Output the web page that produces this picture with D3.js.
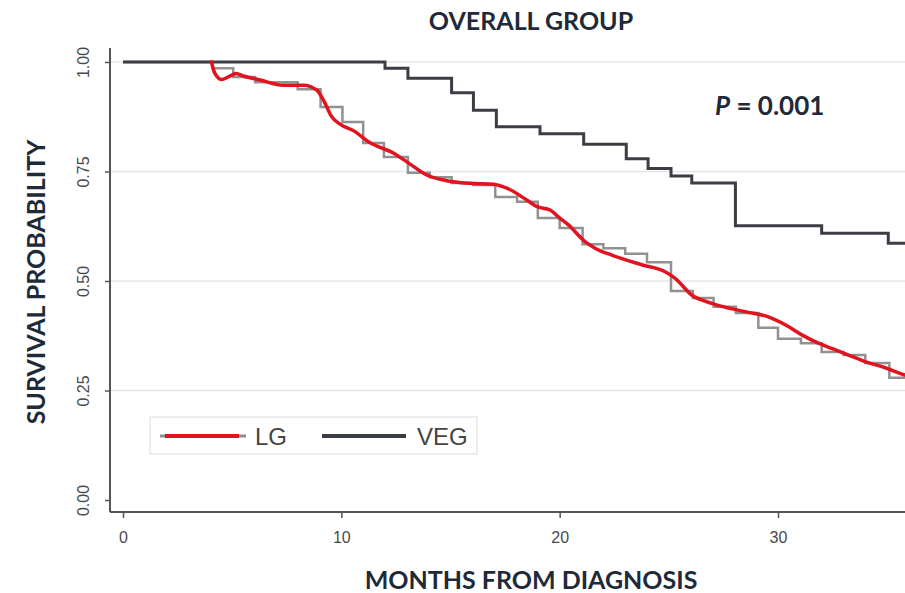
<!DOCTYPE html>
<html>
<head>
<meta charset="utf-8">
<script src="https://cdn.jsdelivr.net/npm/d3@7"></script>
<style>
  html, body { margin: 0; padding: 0; background: #fff; }
  svg { display: block; }
</style>
</head>
<body>
<svg id="chart"></svg>
<script>
// Kaplan-Meier steps, VEG group
const vegMonths = [0, 12, 13.05, 15.05, 16.05, 17.1, 19.1, 21.1, 23.05, 24.05, 25.1, 26.05, 28.05, 32, 35.05, 37];
const vegSurv = [1, 0.986, 0.963, 0.93, 0.89, 0.852, 0.836, 0.812, 0.779, 0.757, 0.74, 0.724, 0.626, 0.609, 0.586, 0.586];

// Kaplan-Meier steps, LG group
const lgMonths = [0, 4.1, 5.05, 6.05, 8.0, 9.05, 10.05, 11.0, 11.95, 13.05, 14.05, 15.05, 16.05, 17.05, 18.05, 19.0, 20.0,
  21.05, 22.0, 23.0, 24.0, 25.1, 26.1, 27.05, 28.07, 29.1, 30.0, 31.05, 32.0, 33.0, 34.0, 35.1, 37];
const lgSurv = [1, 0.986, 0.966, 0.954, 0.938, 0.897, 0.863, 0.815, 0.783, 0.747, 0.737, 0.724, 0.719, 0.692, 0.681, 0.644, 0.621,
  0.584, 0.575, 0.562, 0.543, 0.477, 0.461, 0.441, 0.427, 0.393, 0.368, 0.358, 0.338, 0.331, 0.313, 0.279, 0.279];

// smoothed LG curve (red)
const lgFitMonths = [4.05, 4.21, 4.52, 4.82, 5.18, 5.51, 6.28, 7.34, 8.26, 8.87, 9.18, 9.56, 9.94, 10.63, 11.24, 12.38, 13.0,
  13.91, 14.83, 15.9, 16.96, 17.58, 18.49, 18.95, 19.56, 20.02, 20.4, 21.16, 21.62, 22.39, 23.76, 24.83, 25.29, 26.05,
  26.97, 28.49, 29.56, 30.33, 31.09, 31.85, 32.46, 33.23, 33.99, 34.91, 35.82, 36.5];
const lgFitSurv = [1.0, 0.974, 0.96, 0.966, 0.974, 0.968, 0.959, 0.947, 0.947, 0.936, 0.913, 0.875, 0.858, 0.841, 0.818, 0.792, 0.772,
  0.742, 0.729, 0.723, 0.721, 0.712, 0.685, 0.67, 0.662, 0.643, 0.628, 0.59, 0.575, 0.559, 0.537, 0.521, 0.506, 0.468,
  0.449, 0.43, 0.418, 0.4, 0.377, 0.358, 0.346, 0.331, 0.316, 0.302, 0.285, 0.275];

const xTicks = [0, 10, 20, 30];
const yTicks = [0, 0.25, 0.5, 0.75, 1];
const gridTicks = [0.25, 0.5, 0.75, 1];

const width = 905;
const height = 593;

const svg = d3.select('#chart').attr('width', width).attr('height', height);

const x = d3.scaleLinear().domain([0, 30]).range([123, 778]);
const y = d3.scaleLinear().domain([0, 1]).range([500, 62]);

const axisLeftX = 110;
const axisBottomY = 512;
const navy = '#1e2a38';
const tickFont = '"Liberation Sans", Arial, sans-serif';

//
// GRID LINES
//
svg.append('g')
  .selectAll('line')
  .data(gridTicks)
  .join('line')
  .attr('x1', axisLeftX)
  .attr('x2', width)
  .attr('y1', (d) => y(d))
  .attr('y2', (d) => y(d))
  .attr('stroke', '#e6e6e6')
  .attr('stroke-width', 1.5);

//
// Y AXIS
//
const yAxis = svg.append('g')
  .attr('transform', `translate(${axisLeftX},0)`)
  .call(d3.axisLeft(y).tickValues(yTicks).tickSize(5).tickFormat(d3.format('.2f')));
yAxis.select('.domain').attr('d', `M0,48V${axisBottomY}`).attr('stroke', '#555').attr('stroke-width', 2);
yAxis.selectAll('.tick line').attr('stroke', '#555').attr('stroke-width', 1.5);
yAxis.selectAll('.tick text')
  .attr('transform', 'rotate(-90)')
  .attr('x', 0)
  .attr('y', -21)
  .attr('dy', 0)
  .attr('text-anchor', 'middle')
  .attr('fill', '#4a4a4a')
  .style('font-family', tickFont)
  .style('font-size', '16px');

//
// X AXIS
//
const xAxis = svg.append('g')
  .attr('transform', `translate(0,${axisBottomY})`)
  .call(d3.axisBottom(x).tickValues(xTicks).tickSize(6));
xAxis.select('.domain').attr('d', `M${axisLeftX},0H${width}`).attr('stroke', '#555').attr('stroke-width', 2);
xAxis.selectAll('.tick line').attr('stroke', '#555').attr('stroke-width', 1.5);
xAxis.selectAll('.tick text')
  .attr('y', 20)
  .attr('dy', '0.71em')
  .attr('fill', '#4a4a4a')
  .style('font-family', tickFont)
  .style('font-size', '16px');

//
// CURVES
//
const step = d3.line().curve(d3.curveStepAfter)
  .x((d) => x(d[0]))
  .y((d) => y(d[1]));

const smooth = d3.line().curve(d3.curveMonotoneX)
  .x((d) => x(d[0]))
  .y((d) => y(d[1]));

svg.append('path')
  .datum(lgMonths.map((m, i) => [m, lgSurv[i]]))
  .attr('fill', 'none')
  .attr('stroke', '#919191')
  .attr('stroke-width', 2.5)
  .attr('d', step);

svg.append('path')
  .datum(vegMonths.map((m, i) => [m, vegSurv[i]]))
  .attr('fill', 'none')
  .attr('stroke', '#3b3e44')
  .attr('stroke-width', 3)
  .attr('d', step);

svg.append('path')
  .datum(lgFitMonths.map((m, i) => [m, lgFitSurv[i]]))
  .attr('fill', 'none')
  .attr('stroke', '#e3121f')
  .attr('stroke-width', 3.5)
  .attr('stroke-linecap', 'round')
  .attr('d', smooth);

//
// LEGEND
//
const legend = svg.append('g');
legend.append('rect')
  .attr('x', 150).attr('y', 417).attr('width', 327).attr('height', 37)
  .attr('fill', '#fff').attr('stroke', '#e2e2e2').attr('stroke-width', 1.2);
legend.append('line')
  .attr('x1', 160).attr('x2', 246).attr('y1', 436).attr('y2', 436)
  .attr('stroke', '#8d8d8d').attr('stroke-width', 3);
legend.append('line')
  .attr('x1', 165).attr('x2', 239).attr('y1', 436).attr('y2', 436)
  .attr('stroke', '#e3121f').attr('stroke-width', 4);
legend.append('text')
  .attr('x', 255).attr('y', 445)
  .attr('fill', '#444')
  .style('font-family', tickFont)
  .style('font-size', '24px')
  .text('LG');
legend.append('line')
  .attr('x1', 322).attr('x2', 406).attr('y1', 436).attr('y2', 436)
  .attr('stroke', '#3b3e44').attr('stroke-width', 4);
legend.append('text')
  .attr('x', 417).attr('y', 445)
  .attr('fill', '#444')
  .style('font-family', tickFont)
  .style('font-size', '24px')
  .text('VEG');

//
// TITLES
//
const titleFont = 'Lato, "Open Sans", sans-serif';

svg.append('text')
  .attr('x', 531).attr('y', 30)
  .attr('text-anchor', 'middle')
  .attr('fill', navy)
  .style('font-family', titleFont)
  .style('font-weight', 'bold')
  .style('font-size', '25px')
  .text('OVERALL GROUP');

svg.append('text')
  .attr('x', 531).attr('y', 589)
  .attr('text-anchor', 'middle')
  .attr('fill', navy)
  .style('font-family', titleFont)
  .style('font-weight', 'bold')
  .style('font-size', '25px')
  .text('MONTHS FROM DIAGNOSIS');

svg.append('text')
  .attr('transform', 'translate(45,282) rotate(-90)')
  .attr('text-anchor', 'middle')
  .attr('fill', navy)
  .style('font-family', titleFont)
  .style('font-weight', 'bold')
  .style('font-size', '25px')
  .text('SURVIVAL PROBABILITY');

const pText = svg.append('text')
  .attr('x', 715).attr('y', 115)
  .attr('fill', navy)
  .style('font-family', titleFont)
  .style('font-weight', 'bold')
  .style('font-size', '26px');
pText.append('tspan').style('font-style', 'italic').text('P');
pText.append('tspan').text(' = 0.001');
</script>
</body>
</html>
